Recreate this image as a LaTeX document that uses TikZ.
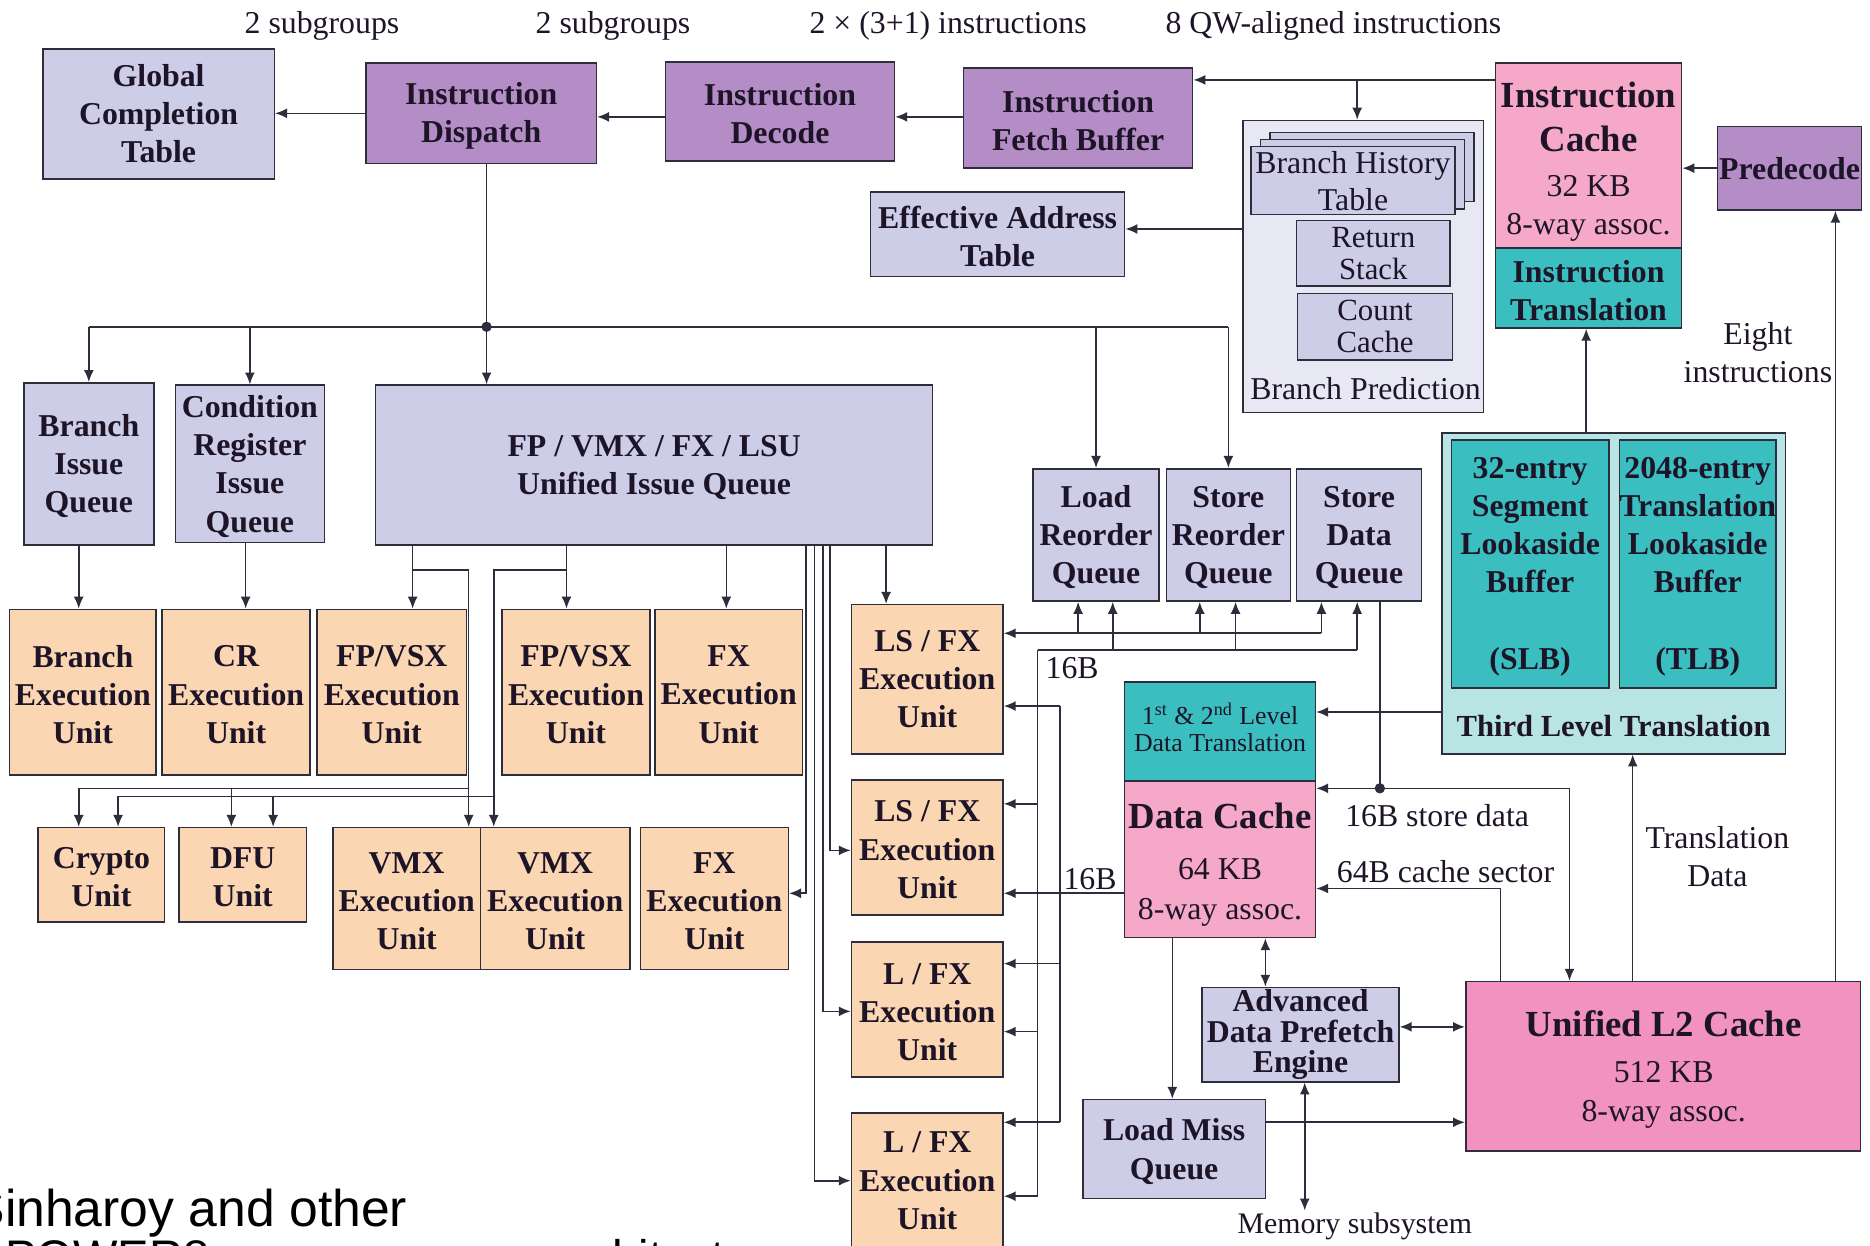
\documentclass[tikz,border=0pt]{standalone}
\usepackage{fontspec}
\setmainfont{Liberation Serif}
\newfontfamily\capfont{Liberation Sans}
\usetikzlibrary{arrows.meta}

\definecolor{lav}{RGB}{205,205,232}
\definecolor{pur}{RGB}{180,141,198}
\definecolor{bplav}{RGB}{232,232,244}
\definecolor{pinkA}{RGB}{245,168,200}
\definecolor{pinkL}{RGB}{241,146,192}
\definecolor{tealD}{RGB}{58,190,192}
\definecolor{tealL}{RGB}{184,228,228}
\definecolor{peach}{RGB}{251,214,178}
\definecolor{linec}{RGB}{45,45,60}
\definecolor{txt}{RGB}{30,20,40}

% empty box: name, fill, x1, y1, x2, y2
\newcommand\bx[6]{\node[boxbase,fill=#2,minimum width={(#5-#3)*0.6pt},minimum height={(#6-#4)*0.6pt}] (#1) at ({(#3+#5)/2},{(#4+#6)/2}) {};}
% box with text: name, fill, text style, x1, y1, x2, y2, text
\newcommand\blk[8]{\bx{#1}{#2}{#4}{#5}{#6}{#7}%
  \node[#3] (#1-t) at (#1.center) {#8};}

\tikzset{
  boxbase/.style={draw=linec, line width=0.8pt, inner sep=0pt},
  tb/.style={inner sep=0pt, align=center, text=txt, font=\bfseries\fontsize{16}{19.2}\selectfont},
  bt/.style={tb, yshift=-1.2pt},
  regA/.style={tb, font=\fontsize{16}{18.6}\selectfont},
  regB/.style={tb, font=\fontsize{15.5}{16.2}\selectfont},
  regS/.style={tb, yshift=2.2pt, font=\fontsize{13}{13.8}\selectfont},
  btight/.style={tb, font=\bfseries\fontsize{16}{15.5}\selectfont},
  lbl/.style={inner sep=0pt, align=center, text=txt, font=\fontsize{16}{19.2}\selectfont},
  titl/.style={inner sep=0pt, align=center, text=txt, font=\bfseries\fontsize{18.5}{22.2}\selectfont},
  wire/.style={draw=linec, line width=0.8pt},
  arr/.style={wire, -{Latex[length=6pt,width=5pt]}},
  darr/.style={wire, {Latex[length=6pt,width=5pt]}-{Latex[length=6pt,width=5pt]}},
  capt/.style={inner sep=0pt, font=\capfont\fontsize{26}{30}\selectfont, text=black},
}

\begin{document}
\begin{tikzpicture}[x=0.6pt, y=-0.6pt]
\useasboundingbox (0,0) rectangle (1568,1044);
\fill[white] (0,0) rectangle (1568,1044);
\clip (0,0) rectangle (1568,1044);

% ---------- front end ----------
\blk{gct}{lav}{tb}{36}{41}{230}{150}{Global\\Completion\\Table}
\blk{disp}{pur}{bt}{307}{53}{500}{137}{Instruction\\Dispatch}
\blk{dec}{pur}{bt}{558}{52}{750}{135}{Instruction\\Decode}
\blk{ifb}{pur}{bt}{808}{57}{1000}{141}{Instruction\\Fetch Buffer}
\bx{icache}{pinkA}{1254}{53}{1410}{208}
\node[titl] (icT) at (1332,98) {Instruction\\Cache};
\node[lbl] (icS) at (1332,175) {32 KB\\8-way assoc.};
\blk{itrans}{tealD}{bt}{1254}{208}{1410}{275}{Instruction\\Translation}
\blk{predec}{pur}{tb}{1440}{106}{1561}{176}{Predecode}

% branch prediction
\bx{bp}{bplav}{1042}{101}{1244}{346}
\bx{bhtC}{lav}{1065}{111}{1236}{169}
\bx{bhtB}{lav}{1057}{117}{1228}{175}
\blk{bht}{lav}{regA}{1049}{123}{1220}{180}{Branch History\\Table}
\blk{rs}{lav}{regB}{1087}{185}{1216}{240}{Return\\Stack}
\blk{cc}{lav}{regB}{1088}{246}{1218}{302}{Count\\Cache}
\node[lbl] (bplbl) at (1145,326) {Branch Prediction};
\blk{eat}{lav}{bt}{730}{161}{943}{232}{Effective Address\\Table}

% top labels
\node[lbl] (t1) at (270,22) {2 subgroups};
\node[lbl] (t2) at (514,22) {2 subgroups};
\node[lbl] (t3) at (795,22) {2 × (3+1) instructions};
\node[lbl] (t4) at (1118,22) {8 QW-aligned instructions};

% ---------- issue queues ----------
\blk{biq}{lav}{bt}{20}{321}{129}{457}{Branch\\Issue\\Queue}
\blk{criq}{lav}{bt}{147}{323}{272}{455}{Condition\\Register\\Issue\\Queue}
\blk{uiq}{lav}{bt}{315}{323}{782}{457}{FP / VMX / FX / LSU\\Unified Issue Queue}
\blk{lrq}{lav}{bt}{866}{393}{972}{504}{Load\\Reorder\\Queue}
\blk{srq}{lav}{bt}{978}{393}{1082}{504}{Store\\Reorder\\Queue}
\blk{sdq}{lav}{bt}{1087}{393}{1192}{504}{Store\\Data\\Queue}

% third level translation
\bx{tlt}{tealL}{1209}{363}{1497}{632}
\blk{slb}{tealD}{bt}{1217}{369}{1349}{577}{32-entry\\Segment\\Lookaside\\Buffer\\[19.2pt](SLB)}
\blk{tlb}{tealD}{bt}{1358}{369}{1489}{577}{2048-entry\\Translation\\Lookaside\\Buffer\\[19.2pt](TLB)}
\node[tb,font=\bfseries\fontsize{15.4}{19}\selectfont] (tltlbl) at (1353,609) {Third Level Translation};

% ---------- execution units ----------
\blk{bex}{peach}{bt}{8}{511}{131}{650}{Branch\\Execution\\Unit}
\blk{crex}{peach}{bt}{136}{511}{260}{650}{CR\\Execution\\Unit}
\blk{fpv1}{peach}{bt}{266}{511}{391}{650}{FP/VSX\\Execution\\Unit}
\blk{fpv2}{peach}{bt}{421}{511}{545}{650}{FP/VSX\\Execution\\Unit}
\blk{fx1}{peach}{bt}{549}{511}{673}{650}{FX\\Execution\\Unit}
\blk{lsfx1}{peach}{tb}{714}{507}{841}{632}{LS / FX\\Execution\\Unit}
\blk{lsfx2}{peach}{bt}{714}{654}{841}{767}{LS / FX\\Execution\\Unit}
\blk{lfx3}{peach}{bt}{714}{790}{841}{903}{L / FX\\Execution\\Unit}
\bx{lfx4}{peach}{714}{933}{841}{1050}
\node[tb] (lfx4-t) at (777.5,990) {L / FX\\Execution\\Unit};
\blk{crypto}{peach}{bt}{32}{694}{138}{773}{Crypto\\Unit}
\blk{dfu}{peach}{bt}{150}{694}{257}{773}{DFU\\Unit}
\blk{vmx1}{peach}{bt}{279}{694}{403}{813}{VMX\\Execution\\Unit}
\blk{vmx2}{peach}{bt}{403}{694}{528}{813}{VMX\\Execution\\Unit}
\blk{fx2}{peach}{bt}{537}{694}{661}{813}{FX\\Execution\\Unit}

% ---------- data side ----------
\blk{dtrans}{tealD}{regS}{943}{572}{1103}{655}{1\textsuperscript{st} \& 2\textsuperscript{nd} Level\\Data Translation}
\bx{dcache}{pinkA}{943}{655}{1103}{786}
\node[titl] (dcT) at (1023,684) {Data Cache};
\node[lbl,font=\fontsize{16}{20}\selectfont] (dcS) at (1023,748) {64 KB\\8-way assoc.};
\blk{adpe}{lav}{btight}{1008}{828}{1173}{907}{Advanced\\Data Prefetch\\Engine}
\blk{lmq}{lav}{bt}{908}{922}{1061}{1005}{Load Miss\\Queue}
\bx{l2}{pinkL}{1229}{823}{1560}{965}
\node[titl] (l2T) at (1395,858) {Unified L2 Cache};
\node[lbl,font=\fontsize{16}{20}\selectfont] (l2S) at (1395,918) {512 KB\\8-way assoc.};

% side labels
\node[lbl] (eightlbl) at (1474,296) {Eight\\instructions};
\node[lbl] (trlbl) at (1440,718) {Translation\\Data};
\node[lbl] (sdlbl) at (1205,684) {16B store data};
\node[lbl] (cslbl) at (1212,731) {64B cache sector};
\node[lbl] (b16a) at (899,560) {16B};
\node[lbl] (b16b) at (914,737) {16B};
\node[lbl,font=\fontsize{15}{18}\selectfont] (memlbl) at (1136,1028) {Memory subsystem};

% ---------- connectors: front end ----------
\draw[arr] (disp.west) -- (disp.west -| gct.east);
\draw[arr] (dec.west |- 0,98) -- (disp.east |- 0,98);
\draw[arr] (ifb.west |- 0,98) -- (dec.east |- 0,98);
\coordinate (fetchJ) at (1138,67);
\draw[arr] (icache.west |- fetchJ) -- (ifb.east |- fetchJ);
\draw[arr] (fetchJ) -- (fetchJ |- bp.north);
\draw[arr] (bp.west |- 0,192) -- (eat.east |- 0,192);
\draw[arr] (predec.west) -- (predec.west -| icache.east);

% dispatch bus
\coordinate (dj) at (408,274);
\draw[wire] (disp.south -| dj) -- (dj);
\draw[wire] (biq.north |- dj) -- (srq.north |- dj);
\draw[arr] (biq.north |- dj) -- (biq.north);
\draw[arr] (criq.north |- dj) -- (criq.north);
\draw[arr] (dj) -- (dj |- uiq.north);
\draw[arr] (lrq.north |- dj) -- (lrq.north);
\draw[arr] (srq.north |- dj) -- (srq.north);
\fill[linec] (dj) circle (2.6pt);

% issue queues to execution units
\draw[arr] (biq.south -| 66,0) -- (bex.north -| 66,0);
\draw[arr] (criq.south -| 206,0) -- (crex.north -| 206,0);
\draw[arr] (uiq.south -| 346,0) -- (fpv1.north -| 346,0);
\draw[arr] (uiq.south -| 475,0) -- (fpv2.north -| 475,0);
\draw[arr] (uiq.south -| 609,0) -- (fx1.north -| 609,0);
\draw[arr] (uiq.south -| 743,0) -- (lsfx1.north -| 743,0);
\draw[arr] (346,478) -| (vmx1.north -| 393,0);
\draw[arr] (475,478) -| (vmx2.north -| 414,0);
\draw[arr] (393,661) -| (crypto.north -| 66,0);
\draw[arr] (194,661) -- (dfu.north -| 194,0);
\draw[arr] (414,668) -| (crypto.north -| 99,0);
\draw[arr] (229,668) -- (dfu.north -| 229,0);
\draw[arr] (uiq.south -| 676,0) |- (fx2.east |- 0,749);
\draw[arr] (uiq.south -| 683,0) |- (lfx4.west |- 0,990);
\draw[arr] (uiq.south -| 690,0) |- (lfx3.west |- 0,848);
\draw[arr] (uiq.south -| 696,0) |- (lsfx2.west |- 0,713);

% reorder queue buses
\draw[arr] (1108,531) -- (lsfx1.east |- 0,531);
\draw[arr] (904,531) -- (lrq.south -| 904,0);
\draw[arr] (1006,531) -- (srq.south -| 1006,0);
\draw[arr] (1108,531) -- (sdq.south -| 1108,0);
\draw[wire] (870,545) -- (1138,545);
\draw[arr] (933,545) -- (lrq.south -| 933,0);
\draw[arr] (1036,545) -- (srq.south -| 1036,0);
\draw[arr] (1138,545) -- (sdq.south -| 1138,0);
\draw[wire] (870,545) -- (870,1003);
\draw[arr] (870,674) -- (lsfx2.east |- 0,674);
\draw[arr] (870,865) -- (lfx3.east |- 0,865);
\draw[arr] (870,1003) -- (lfx4.east |- 0,1003);
\draw[wire] (889,592) -- (889,941);
\draw[arr] (889,592) -- (lsfx1.east |- 0,592);
\draw[arr] (889,808) -- (lfx3.east |- 0,808);
\draw[arr] (889,941) -- (lfx4.east |- 0,941);
\draw[arr] (dcache.west |- 0,749) -- (lsfx2.east |- 0,749);

% store data and L2 paths
\coordinate (sdj) at (1157,661);
\draw[wire] (sdq.south -| sdj) -- (sdj);
\draw[arr] (sdj) -- (dcache.east |- sdj);
\draw[arr] (sdj) -| (l2.north -| 1316,0);
\fill[linec] (sdj) circle (2.6pt);
\draw[arr] (l2.north -| 1258,0) |- (dcache.east |- 0,745);
\draw[arr] (l2.north -| 1369,0) -- (tlt.south -| 1369,0);
\draw[arr] (l2.north -| 1539,0) -- (predec.south -| 1539,0);
\draw[arr] (tlt.north -| 1330,0) -- (itrans.south -| 1330,0);
\draw[arr] (tlt.west |- 0,597) -- (dtrans.east |- 0,597);
\draw[darr] (dcache.south -| 1061,0) -- (adpe.north -| 1061,0);
\draw[darr] (adpe.east |- 0,861) -- (l2.west |- 0,861);
\draw[arr] (dcache.south -| 983,0) -- (lmq.north -| 983,0);
\draw[arr] (lmq.east |- 0,941) -- (l2.west |- 0,941);
\coordinate (mem) at (1094,1015);
\draw[darr] (adpe.south -| mem) -- (mem);

% caption
\node[capt, anchor=base west] (capA) at (-25,1028) {Sinharoy and other};
\node[capt, anchor=base west, font=\capfont\fontsize{23.7}{28}\selectfont] (capB) at (4,1068) {POWER8 processor core architecture};
\end{tikzpicture}
\end{document}
